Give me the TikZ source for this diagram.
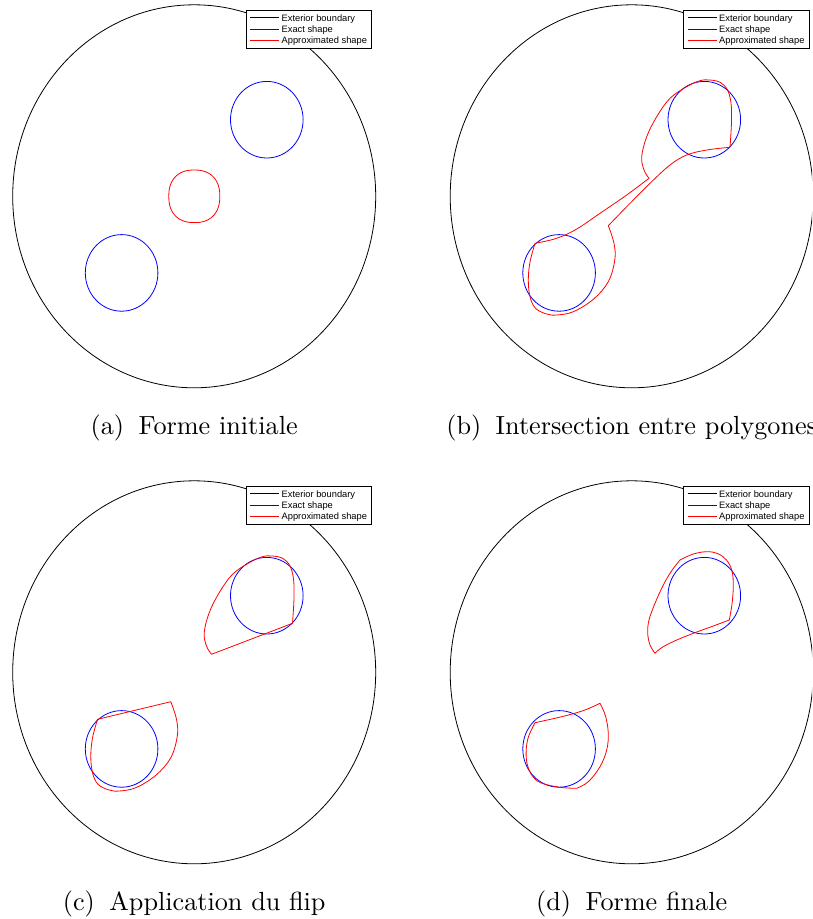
\documentclass[tikz,border=0pt]{standalone}
\usepackage{fontspec}
\newfontfamily\legfont{Liberation Sans}
\definecolor{pureblue}{RGB}{0,0,255}
\begin{document}
\begin{tikzpicture}[x=1pt,y=-1pt,
  ext/.style={black, line width=0.8pt},
  exact/.style={draw=pureblue, line width=0.8pt},
  approx/.style={draw=red, line width=0.8pt, line join=round},
  legbox/.style={draw=black, fill=white, line width=0.8pt, inner sep=0pt, anchor=north west, minimum width=125.5pt, minimum height=38pt},
  legtext/.style={anchor=base west, inner sep=0pt, font=\legfont\fontsize{9.3}{10}\selectfont},
  captext/.style={anchor=base, inner sep=0pt, scale=2.62, font=\fontsize{10}{12}\selectfont},
  sm/.style={smooth, tension=0.6}
]
\useasboundingbox (0,0) rectangle (812,919);
\clip (0,0) rectangle (812,919);

\newcommand\drawpanel[2]{%
  \draw[ext] (194.2,196.3) ellipse [x radius=181.5pt, y radius=191.5pt];
  \draw[exact] (266.8,119.7) ellipse [x radius=36.3pt, y radius=38.3pt];
  \draw[exact] (121.6,272.9) ellipse [x radius=36.3pt, y radius=38.3pt];
  \node[captext] (cap#1) at (194.2,434) {#2};
}
\newcommand\drawlegend[1]{%
  \node[legbox] (leg#1) at (245.5,9.5) {};
  \coordinate (l1s#1) at (250,17.5); \coordinate (l1e#1) at (279,17.5);
  \coordinate (l2s#1) at (250,29);   \coordinate (l2e#1) at (279,29);
  \coordinate (l3s#1) at (250,40.5); \coordinate (l3e#1) at (279,40.5);
  \draw[ext, line width=1pt] (l1s#1) -- (l1e#1);
  \draw[exact, line width=1pt] (l2s#1) -- (l2e#1);
  \draw[approx, line width=1pt] (l3s#1) -- (l3e#1);
  \node[legtext] (la#1) at (281.5,21) {Exterior boundary};
  \node[legtext] (lb#1) at (281.5,32.3) {Exact shape};
  \node[legtext] (lc#1) at (281.5,43.6) {Approximated shape};
}

% ---------- (a)
\begin{scope}
  \drawpanel{a}{(a)\hspace{0.55em}Forme initiale}
  \draw[approx] plot[smooth cycle, domain=2.5:357.5, samples=72, variable=\t]
    ({194.3+25.5*sign(cos(\t))*abs(cos(\t))^0.86}, {196.3+26.3*sign(sin(\t))*abs(sin(\t))^0.86});
  \drawlegend{a}
\end{scope}

% ---------- (b)
\begin{scope}[shift={(437.5,0)}]
  \drawpanel{b}{(b)\hspace{0.55em}Intersection entre polygones}
  \draw[approx]
    plot[sm] coordinates {(292.5,147.3) (294,122) (293.5,103) (290,90) (283,82.5) (272.5,80) (262.5,80.7) (249.2,86.7) (232.5,98.3) (219.2,116.7) (209.2,136.7) (204.2,156.7) (206.5,170) (211.5,178.3)}
    -- plot[sm] coordinates {(211.5,178.3) (189.2,195) (162.5,213.3) (139.2,229) (119.2,238.3) (97.5,243.3)}
    -- plot[sm] coordinates {(97.5,243.3) (92.5,262) (90.8,280) (92.5,296.7) (98,308.3) (109.2,314) (119.2,315) (135.8,311.7) (155.8,299.3) (170.8,281.7) (177.3,260) (176.5,243.3) (170.8,225.7)}
    -- plot[sm] coordinates {(170.8,225.7) (189.2,206.7) (212.5,183.3) (232.5,165) (249.2,155) (269.2,150) (292.5,147.3)}
    -- cycle;
  \drawlegend{b}
\end{scope}

% ---------- (c)
\begin{scope}[shift={(0,476)}]
  \drawpanel{c}{(c)\hspace{0.55em}Application du flip}
  \draw[approx]
    plot[sm] coordinates {(292.5,147.3) (294,122) (293.5,103) (290,90) (283,82.5) (272.5,80) (262.5,80.7) (249.2,86.7) (232.5,98.3) (219.2,116.7) (209.2,136.7) (204.2,156.7) (206.5,170) (211.5,178.3)}
    -- cycle;
  \draw[approx]
    plot[sm] coordinates {(97.5,243.3) (92.5,262) (90.8,280) (92.5,296.7) (98,308.3) (109.2,314) (119.2,315) (135.8,311.7) (155.8,299.3) (170.8,281.7) (177.3,260) (176.5,243.3) (170.8,225.7)}
    -- cycle;
  \drawlegend{c}
\end{scope}

% ---------- (d)
\begin{scope}[shift={(437.5,476)}]
  \drawpanel{d}{(d)\hspace{0.55em}Forme finale}
  \draw[approx]
    plot[sm] coordinates {(291.8,144) (294.5,128) (295.8,110) (294.5,95) (289,84) (280,77.5) (269.2,75.7) (255.8,78) (242.5,84)}
    -- plot[sm] coordinates {(242.5,84) (234,95) (225.8,109) (217.5,127.3) (211.5,144) (210.2,157.3) (212.5,169) (217.5,177.3)}
    -- plot[sm] coordinates {(217.5,177.3) (224,171.8) (237,165) (255.8,157.3) (275.8,150) (291.8,144)}
    -- cycle;
  \draw[approx]
    plot[sm] coordinates {(97.5,246.7) (125,240.5) (146,234.5) (162.5,227.3)}
    -- plot[sm] coordinates {(162.5,227.3) (168,240) (170.8,257.3) (169.2,274) (162.5,290.7) (150.8,305.7) (139.2,312.3)}
    -- plot[sm] coordinates {(139.2,312.3) (122.5,311.3) (103,306.7) (94.2,299) (89.5,287.3) (88.7,274) (91,260.7) (97.5,246.7)}
    -- cycle;
  \drawlegend{d}
\end{scope}
\end{tikzpicture}
\end{document}
